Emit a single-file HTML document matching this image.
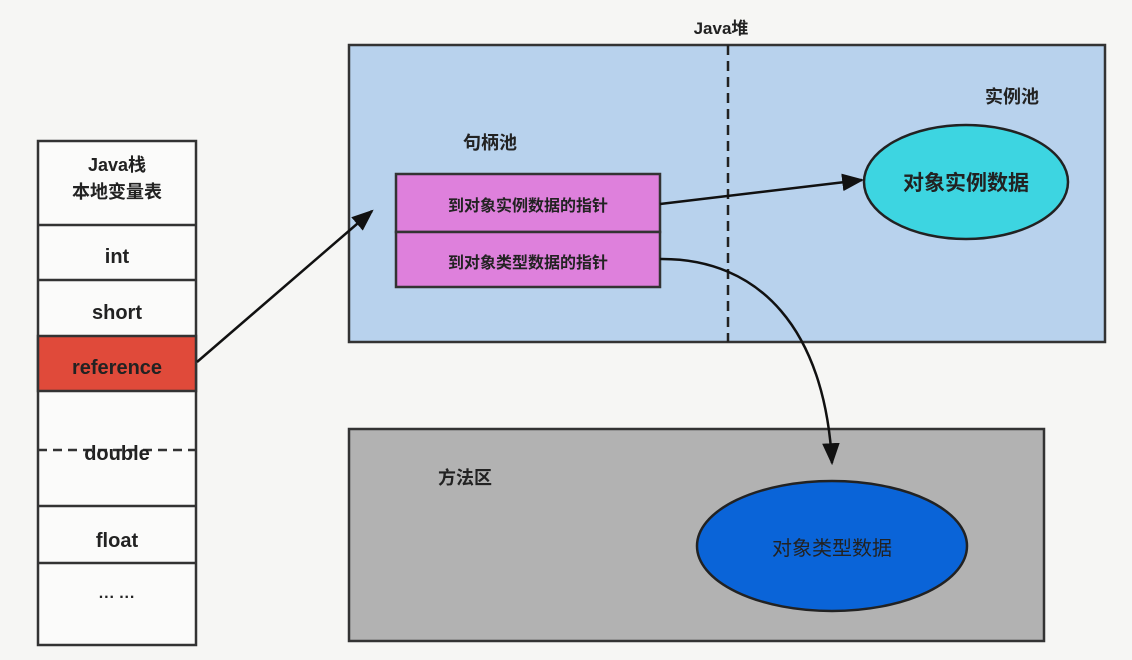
<!DOCTYPE html>
<html><head><meta charset="utf-8"><style>
html,body{margin:0;padding:0;background:#f6f6f4;}
svg{display:block;}
text{font-family:"Liberation Sans","Noto Sans CJK SC",sans-serif;font-weight:bold;fill:#222;}
</style></head><body>
<svg width="1132" height="660" viewBox="0 0 1132 660">
<defs><marker id="a" viewBox="0 0 10 10" refX="9" refY="5" markerWidth="9" markerHeight="9" markerUnits="userSpaceOnUse" orient="auto"><path d="M0,0L10,5L0,10z" fill="#111"/></marker>
<marker id="b" viewBox="0 0 10 10" refX="9" refY="5" markerWidth="22" markerHeight="22" markerUnits="userSpaceOnUse" orient="auto"><path d="M0,1L10,5L0,9z" fill="#111"/></marker></defs>
<!-- stack -->
<rect x="38" y="141" width="158" height="504" fill="#fbfbfa" stroke="#333" stroke-width="2.5"/>
<rect x="38" y="336" width="158" height="55" fill="#e04a3a" stroke="#333" stroke-width="2.5"/>
<g stroke="#333" stroke-width="2.5"><line x1="38" y1="225" x2="196" y2="225"/><line x1="38" y1="280" x2="196" y2="280"/><line x1="38" y1="506" x2="196" y2="506"/><line x1="38" y1="563" x2="196" y2="563"/></g>
<line x1="38" y1="450" x2="196" y2="450" stroke="#333" stroke-width="2.5" stroke-dasharray="9,6"/>
<g font-size="20" text-anchor="middle">
<text x="117" y="171" font-size="18">Java栈</text><text x="117" y="198" font-size="18">本地变量表</text>
<text x="117" y="263">int</text><text x="117" y="319">short</text><text x="117" y="374">reference</text>
<text x="117" y="460">double</text><text x="117" y="547">float</text><text x="117" y="602" font-size="16">··· ···</text></g>
<!-- heap -->
<text x="721" y="34" font-size="17" text-anchor="middle">Java堆</text>
<rect x="349" y="45" width="756" height="297" fill="#b8d2ed" stroke="#333" stroke-width="2.5"/>
<line x1="728" y1="45" x2="728" y2="342" stroke="#222" stroke-width="2.5" stroke-dasharray="10,6"/>
<text x="985" y="103" font-size="18">实例池</text>
<text x="463" y="149" font-size="18">句柄池</text>
<rect x="396" y="174" width="264" height="58" fill="#de80dc" stroke="#333" stroke-width="2.5"/>
<rect x="396" y="232" width="264" height="55" fill="#de80dc" stroke="#333" stroke-width="2.5"/>
<text x="528" y="211" font-size="16" text-anchor="middle">到对象实例数据的指针</text>
<text x="528" y="268" font-size="16" text-anchor="middle">到对象类型数据的指针</text>
<ellipse cx="966" cy="182" rx="102" ry="57" fill="#3dd5e1" stroke="#222" stroke-width="2.5"/>
<text x="966" y="190" font-size="21" text-anchor="middle">对象实例数据</text>
<!-- method area -->
<rect x="349" y="429" width="695" height="212" fill="#b2b2b2" stroke="#333" stroke-width="2.5"/>
<text x="465" y="484" font-size="18" text-anchor="middle">方法区</text>
<ellipse cx="832" cy="546" rx="135" ry="65" fill="#0a64d8" stroke="#222" stroke-width="2.5"/>
<text x="832" y="555" font-size="20" text-anchor="middle" style="font-weight:normal">对象类型数据</text>
<!-- arrows -->
<path d="M197,362L372,211" stroke="#111" stroke-width="2.5" fill="none" marker-end="url(#b)"/>
<path d="M660,204L862,180" stroke="#111" stroke-width="2.5" fill="none" marker-end="url(#b)"/>
<path d="M660,259C760,258 825,330 832,463" stroke="#111" stroke-width="2.5" fill="none" marker-end="url(#b)"/>
</svg>
</body></html>
